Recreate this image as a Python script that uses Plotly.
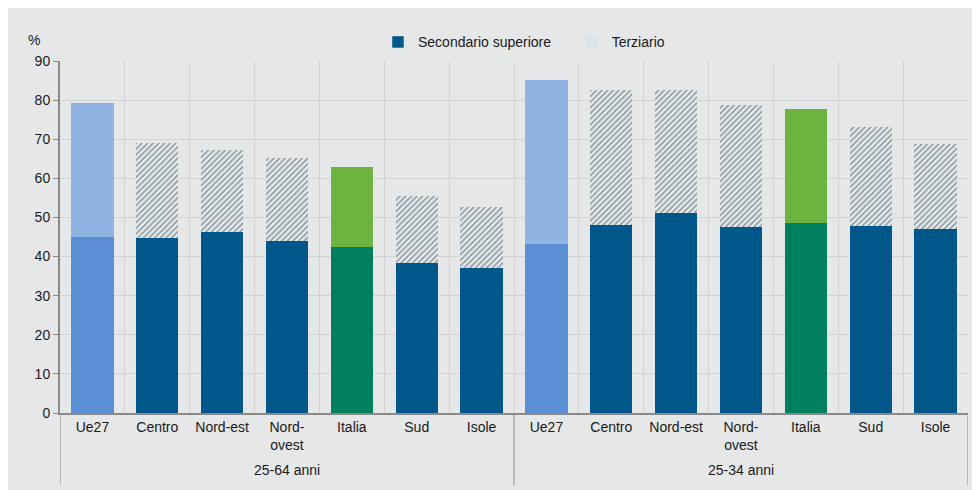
import plotly.graph_objects as go

# dati
gruppi = ['25-64 anni', '25-34 anni']
aree = ['Ue27', 'Centro', 'Nord-est', 'Nord-<br>ovest', 'Italia', 'Sud', 'Isole']
secondario = [45.0, 44.7, 46.3, 44.0, 42.4, 38.4, 37.1,
              43.2, 48.1, 51.1, 47.6, 48.6, 47.8, 47.0]
totale = [79.3, 69.0, 67.2, 65.2, 62.9, 55.5, 52.7,
          85.1, 82.6, 82.6, 78.8, 77.7, 73.1, 68.8]
terziario = [round(t - s, 1) for t, s in zip(totale, secondario)]

# categorie uniche per l'asse (secondo gruppo con spazio invisibile)
categorie = aree + [a + '\u200b' for a in aree]
nomi = aree * 2

# colori per barra
def colore_sec(a):
    if a == 'Ue27':
        return '#5a8fd6'
    if a == 'Italia':
        return '#00805f'
    return '#00578a'

def colore_ter(a):
    if a == 'Ue27':
        return '#8fb4e3'
    if a == 'Italia':
        return '#6db33f'
    return '#e3edf2'

col_sec = [colore_sec(a) for a in nomi]
col_ter = [colore_ter(a) for a in nomi]
pattern = ['' if a in ('Ue27', 'Italia') else '/' for a in nomi]
hatch = dict(fgcolor='#aac4d1', size=4, solidity=0.4)

font = 'Liberation Sans, Arial, sans-serif'
sfondo = '#e6e7e9'
grigio = '#8a8a8a'

fig = go.Figure()

fig.add_trace(go.Bar(
    x=categorie, y=secondario, name='Secondario superiore', showlegend=False,
    marker=dict(color=col_sec, line=dict(width=0)),
))

fig.add_trace(go.Bar(
    x=categorie, y=terziario, name='Terziario', showlegend=False,
    marker=dict(color=col_ter, line=dict(width=0),
                pattern=dict(shape=pattern, **hatch)),
))

# tracce solo per la legenda
fig.add_trace(go.Bar(x=[categorie[1]], y=[None],
                     name='Secondario superiore' + '\u00a0' * 4,
                     marker=dict(color='#00578a')))
fig.add_trace(go.Bar(x=[categorie[1]], y=[None], name='Terziario',
                     marker=dict(color='#e3edf2', pattern=dict(shape='/', **hatch))))

n = len(aree)
annotazioni = [dict(text='%', x=0, xref='paper', xanchor='right', xshift=-18,
                    y=1.03, yref='paper', yanchor='bottom', showarrow=False,
                    font=dict(size=14))]
for i, g in enumerate(gruppi):
    annotazioni.append(dict(text=g, x=i * n + (n - 1) / 2, xref='x',
                            y=-0.162, yref='paper', yanchor='middle',
                            showarrow=False, font=dict(size=14)))

divisori = []
for pos in [-0.5, n - 0.5, 2 * n - 0.5]:
    divisori.append(dict(type='line', xref='x', yref='paper', x0=pos, x1=pos,
                         y0=0, y1=-0.205, line=dict(color=grigio, width=1)))

fig.update_layout(
    barmode='stack',
    bargap=0.35,
    width=980, height=490,
    paper_bgcolor=sfondo,
    plot_bgcolor=sfondo,
    font=dict(family=font, size=14, color='#1a1a1a'),
    margin=dict(l=52, r=20, t=53, b=85),
    legend=dict(orientation='h', x=0.511, xanchor='center', y=0.93, yanchor='middle',
                yref='container', font=dict(size=14), bgcolor='rgba(0,0,0,0)',
                traceorder='normal', itemwidth=30),
    annotations=annotazioni,
    shapes=divisori,
)

fig.update_yaxes(range=[0, 90], dtick=10, showgrid=True, gridcolor='#d2d3d5',
                 showline=True, linecolor=grigio, linewidth=2, automargin=False,
                 ticks='outside', ticklen=5, tickcolor=grigio, zeroline=False)
fig.update_xaxes(type='category', showgrid=True, gridcolor='#d2d3d5',
                 tickson='boundaries', showline=True, linecolor=grigio, linewidth=2,
                 automargin=False, ticks='outside', ticklen=8, tickcolor=sfondo,
                 tickangle=0, range=[-0.5, 2 * n - 0.5])

fig.write_html("out.html")
